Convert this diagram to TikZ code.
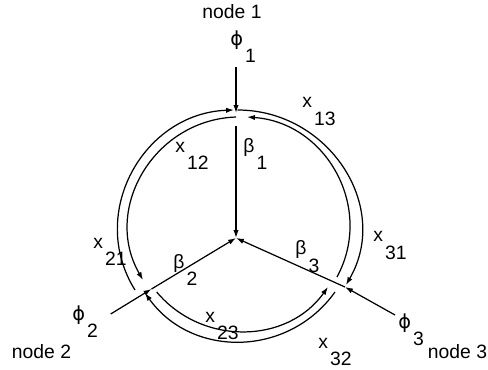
\documentclass[tikz,border=0pt]{standalone}
\usepackage{fontspec}
\setmainfont{Liberation Sans}
\newfontfamily\greekfont{DejaVu Sans}
\usetikzlibrary{arrows.meta}
\newcommand{\sublbl}[2]{#1\kern1.2pt\raisebox{-10pt}{#2}}
\newcommand{\fy}{{\greekfont ϕ}}

\begin{document}
\begin{tikzpicture}[x=0.2mm, y=0.2mm,
        flow/.style={line width=0.7pt, -{Latex[length=4.5pt, width=3pt]}},
        ring/.style={flow, looseness=1.1},
        lbl/.style={anchor=base west, inner sep=0pt, font=\fontsize{11}{13}\selectfont},
        nodelbl/.style={inner sep=0pt, font=\fontsize{11}{13}\selectfont}
    ]
        \useasboundingbox (0,0) rectangle (488,-370);

        % centre, junctions and free ends
        \coordinate (c) at (236,-238);
        \coordinate (j1) at (236,-113);
        \coordinate (j2) at (151.5,-289);
        \coordinate (j3) at (345,-287);
        \coordinate (in1) at (236,-67);
        \coordinate (in2) at (110.7,-314);
        \coordinate (in3) at (395,-315);
        \coordinate (b1) at (236,-126);

        % ends of the ring arcs
        \coordinate (x21a) at (135,-290);
        \coordinate (x21b) at (234,-110);
        \coordinate (x13a) at (237.5,-110);
        \coordinate (x13b) at (346,-285);
        \coordinate (x32a) at (335,-292);
        \coordinate (x32b) at (145,-293);
        \coordinate (x12a) at (236,-117);
        \coordinate (x12b) at (143,-280);
        \coordinate (x31a) at (337,-277);
        \coordinate (x31b) at (247,-117);
        \coordinate (x23a) at (156.7,-292);
        \coordinate (x23b) at (328,-287);

        \node[nodelbl] (node1) at (232,-12) {node 1};
        \node[nodelbl] (node2) at (41.5,-352) {node 2};
        \node[nodelbl] (node3) at (457.5,-352) {node 3};

        \node[lbl] (phi1) at (230,-45) {\sublbl{\fy}{1}};
        \node[lbl] (phi2) at (72,-320) {\sublbl{\fy}{2}};
        \node[lbl] (phi3) at (398,-328) {\sublbl{\fy}{3}};
        \node[lbl] (beta1) at (243,-152) {\sublbl{β}{1}};
        \node[lbl] (beta2) at (173,-268) {\sublbl{β}{2}};
        \node[lbl] (beta3) at (295,-255) {\sublbl{β}{3}};
        \node[lbl] (lx12) at (175,-152) {\sublbl{x}{12}};
        \node[lbl] (lx13) at (302,-108) {\sublbl{x}{13}};
        \node[lbl] (lx21) at (93,-248) {\sublbl{x}{21}};
        \node[lbl] (lx23) at (205,-322) {\sublbl{x}{23}};
        \node[lbl] (lx31) at (373,-242) {\sublbl{x}{31}};
        \node[lbl] (lx32) at (318,-348) {\sublbl{x}{32}};

        % inflows and flows to the centre
        \draw[flow] (in1) -- (j1);
        \draw[flow] (in2) -- (j2);
        \draw[flow] (in3) -- (j3);
        \draw[flow] (b1) -- (c);
        \draw[flow] (j2) -- (c);
        \draw[flow] (j3) -- (c);

        % outer ring
        \draw[ring, looseness=1.13] (x21a) to[out=122, in=182] (x21b);
        \draw[ring, looseness=1.13] (x13a) to[out=0, in=60] (x13b);
        \draw[ring, looseness=1.08] (x32a) to[out=-125.5, in=-54.4] (x32b);

        % inner ring
        \draw[ring, looseness=1.12] (x12a) to[out=182, in=120] (x12b);
        \draw[ring, looseness=1.1] (x31a) to[out=61.6, in=-4] (x31b);
        \draw[ring, looseness=1.05] (x23a) to[out=-50, in=234.5] (x23b);
    \end{tikzpicture}
\end{document}
